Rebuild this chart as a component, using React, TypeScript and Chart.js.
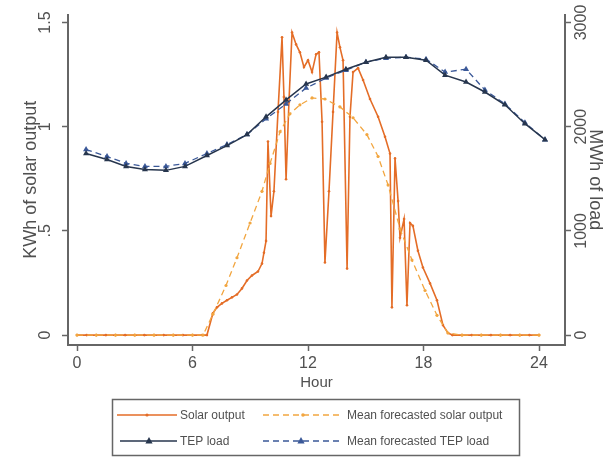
import React, { useEffect, useRef } from 'react';
import { Chart, registerables } from 'chart.js';

Chart.register(...registerables);

// ---- Data ----
const xTickHours = [0, 6, 12, 18, 24];
const kwhTicks = [0, 0.5, 1, 1.5];
const mwhTicks = [0, 1000, 2000, 3000];

const solarHours = [
  0, 0.5, 1, 1.5, 2, 2.5, 3, 3.5, 4, 4.5, 5, 5.5, 6, 6.5,
  6.75, 7.06, 7.27, 7.53, 7.79, 8.05, 8.31, 8.57, 8.83, 9.09, 9.4, 9.61, 9.71, 9.82,
  9.92, 10.08, 10.23, 10.44, 10.65, 10.75, 10.86, 11.01, 11.17, 11.38, 11.58, 11.79,
  12.0, 12.21, 12.42, 12.57, 12.73, 12.88, 13.09, 13.3, 13.51, 13.66, 13.82, 14.03,
  14.18, 14.34, 14.6, 14.86, 15.22, 15.64, 16.0, 16.26, 16.36, 16.52, 16.68, 16.78,
  16.99, 17.14, 17.3, 17.45, 17.71, 17.97, 18.34, 18.7, 19.01, 19.27,
  19.5, 20, 20.5, 21, 21.5, 22, 22.5, 23, 23.5, 24,
];
const solarKWh = [
  0, 0, 0, 0, 0, 0, 0, 0, 0, 0, 0, 0, 0, 0,
  0.0, 0.105, 0.133, 0.152, 0.167, 0.181, 0.195, 0.224, 0.262, 0.286, 0.305, 0.343, 0.395, 0.452,
  0.929, 0.571, 0.69, 1.071, 1.429, 1.143, 0.748, 1.119, 1.452, 1.395, 1.357, 1.286,
  1.319, 1.262, 1.348, 1.357, 1.024, 0.348, 0.69, 1.071, 1.452, 1.381, 1.319, 0.319,
  1.048, 1.262, 1.281, 1.224, 1.133, 1.048, 0.952, 0.871, 0.133, 0.848, 0.643, 0.467,
  0.557, 0.143, 0.538, 0.524, 0.405, 0.324, 0.248, 0.167, 0.048, 0.01,
  0, 0, 0, 0, 0, 0, 0, 0, 0, 0,
];

const forecastSolarHours = [
  0, 1, 2, 3, 4, 5, 6, 6.55, 7.06, 7.74, 8.31, 8.99, 9.61, 10.03, 10.55, 11.06, 11.58,
  12.21, 12.88, 13.66, 14.34, 15.06, 15.64, 16.16, 16.78, 17.4, 18.08, 18.7, 19.27,
  20, 21, 22, 23, 24,
];
const forecastSolarKWh = [
  0, 0, 0, 0, 0, 0, 0, 0, 0.1, 0.238, 0.371, 0.538, 0.69, 0.824, 0.976, 1.062, 1.105,
  1.138, 1.133, 1.095, 1.043, 0.962, 0.857, 0.72, 0.51, 0.36, 0.214, 0.095, 0.01,
  0, 0, 0, 0, 0,
];

const loadHours = [
  0.47, 1.56, 2.55, 3.53, 4.62, 5.61, 6.75, 7.79, 8.83, 9.82, 10.86, 11.9,
  12.94, 13.97, 15.01, 16.05, 17.09, 18.13, 19.12, 20.21, 21.19, 22.23, 23.27, 24.31,
];
const tepLoadMWh = [
  1743, 1686, 1619, 1590, 1581, 1619, 1724, 1819, 1924, 2095, 2257, 2410,
  2476, 2552, 2619, 2667, 2667, 2638, 2495, 2429, 2333, 2210, 2029, 1876,
];
const forecastLoadMWh = [
  1781, 1714, 1648, 1619, 1619, 1648, 1743, 1829, 1924, 2076, 2219, 2371,
  2467, 2543, 2619, 2657, 2667, 2648, 2524, 2552, 2352, 2219, 2038, 1876,
];

const seriesNames = [
  'Solar output',
  'Mean forecasted solar output',
  'TEP load',
  'Mean forecasted TEP load',
];

// ---- Styles ----
const SOLAR = '#e46d27';
const SOLAR_FC = '#f2a640';
const LOAD = '#27364e';
const LOAD_FC = '#3a5898';
const AXIS = '#666666';
const TEXT = '#505050';
const FONT = "'Liberation Sans', Arial, sans-serif";

const zip = (xs: number[], ys: number[]) => xs.map((x, i) => ({ x, y: ys[i] }));

function drawMarker(ctx: CanvasRenderingContext2D, kind: string, x: number, y: number, r: number, color: string) {
  ctx.fillStyle = color;
  ctx.beginPath();
  if (kind === 'triangle') {
    ctx.moveTo(x, y - r);
    ctx.lineTo(x + r * 0.9, y + r * 0.6);
    ctx.lineTo(x - r * 0.9, y + r * 0.6);
    ctx.closePath();
  } else {
    ctx.arc(x, y, r, 0, Math.PI * 2);
  }
  ctx.fill();
}

const legendPlugin = {
  id: 'stataLegend',
  afterDraw(chart: any) {
    const ctx: CanvasRenderingContext2D = chart.ctx;
    ctx.save();
    ctx.strokeStyle = AXIS;
    ctx.lineWidth = 1.5;
    ctx.strokeRect(112.5, 399.5, 407, 56);
    const items = [
      { name: seriesNames[0], color: SOLAR, dash: [], marker: 'circle', r: 1.6, x0: 117, x1: 177, mx: 147, tx: 180, y: 415 },
      { name: seriesNames[1], color: SOLAR_FC, dash: [6, 4], marker: 'circle', r: 1.8, x0: 263, x1: 342, mx: 303, tx: 347, y: 415 },
      { name: seriesNames[2], color: LOAD, dash: [], marker: 'triangle', r: 4, x0: 120, x1: 177, mx: 149, tx: 180, y: 441 },
      { name: seriesNames[3], color: LOAD_FC, dash: [6, 4], marker: 'triangle', r: 4, x0: 263, x1: 342, mx: 301, tx: 347, y: 441 },
    ];
    ctx.font = `12px ${FONT}`;
    ctx.textBaseline = 'middle';
    ctx.textAlign = 'left';
    for (const it of items) {
      ctx.strokeStyle = it.color;
      ctx.lineWidth = 1.3;
      ctx.setLineDash(it.dash);
      ctx.beginPath();
      ctx.moveTo(it.x0, it.y);
      ctx.lineTo(it.x1, it.y);
      ctx.stroke();
      ctx.setLineDash([]);
      drawMarker(ctx, it.marker, it.mx, it.y, it.r, it.color);
      ctx.fillStyle = TEXT;
      ctx.fillText(it.name, it.tx, it.y + 1);
    }
    ctx.restore();
  },
};

export default function App() {
  const ref = useRef<HTMLCanvasElement>(null);

  useEffect(() => {
    if (!ref.current) return;
    const chart = new Chart(ref.current, {
      type: 'line',
      data: {
        datasets: [
          {
            label: seriesNames[2],
            data: zip(loadHours, tepLoadMWh),
            yAxisID: 'y2',
            borderColor: LOAD,
            backgroundColor: LOAD,
            borderWidth: 1.5,
            pointStyle: 'triangle',
            pointRadius: 3.5,
            pointBorderWidth: 0,
            tension: 0,
            order: 0,
          },
          {
            label: seriesNames[3],
            data: zip(loadHours, forecastLoadMWh),
            yAxisID: 'y2',
            borderColor: LOAD_FC,
            backgroundColor: LOAD_FC,
            borderWidth: 1.3,
            borderDash: [6, 4],
            pointStyle: 'triangle',
            pointRadius: 3.5,
            pointBorderWidth: 0,
            tension: 0,
            order: 1,
          },
          {
            label: seriesNames[1],
            data: zip(forecastSolarHours, forecastSolarKWh),
            yAxisID: 'y',
            borderColor: SOLAR_FC,
            backgroundColor: SOLAR_FC,
            borderWidth: 1.3,
            borderDash: [6, 4],
            pointRadius: 1.6,
            pointBorderWidth: 0,
            tension: 0,
            order: 2,
          },
          {
            label: seriesNames[0],
            data: zip(solarHours, solarKWh),
            yAxisID: 'y',
            borderColor: SOLAR,
            backgroundColor: SOLAR,
            borderWidth: 1.6,
            pointRadius: 1.3,
            pointBorderWidth: 0,
            tension: 0,
            order: 3,
          },
        ],
      },
      options: {
        responsive: false,
        animation: false,
        events: [],
        layout: { padding: { top: 12, bottom: 65, left: 0, right: 0 } },
        plugins: {
          legend: { display: false },
          tooltip: { enabled: false },
          title: { display: false },
        },
        scales: {
          x: {
            type: 'linear',
            position: 'bottom',
            min: -0.468,
            max: 25.35,
            afterBuildTicks: (s: any) => { s.ticks = xTickHours.map((v) => ({ value: v })); },
            afterFit: (s: any) => { s.height = 47; },
            grid: { drawOnChartArea: false, drawTicks: true, tickLength: 6, tickColor: AXIS, tickWidth: 1.5 },
            border: { display: true, color: AXIS, width: 2 },
            ticks: { color: TEXT, font: { family: FONT, size: 16 }, padding: 3, maxRotation: 0, minRotation: 0 },
            title: { display: true, text: 'Hour', color: TEXT, font: { family: FONT, size: 15 }, padding: { top: 0, bottom: 0 } },
          },
          y: {
            type: 'linear',
            position: 'left',
            min: -0.0476,
            max: 1.538,
            afterBuildTicks: (s: any) => { s.ticks = kwhTicks.map((v) => ({ value: v })); },
            afterFit: (s: any) => { s.width = 68; },
            grid: { drawOnChartArea: false, drawTicks: true, tickLength: 6, tickColor: AXIS, tickWidth: 1.5 },
            border: { display: true, color: AXIS, width: 2 },
            ticks: {
              color: TEXT,
              font: { family: FONT, size: 16 },
              minRotation: 90,
              maxRotation: 90,
              crossAlign: 'center',
              padding: 5,
              callback: (v: any) => (v === 0.5 ? '.5' : String(v)),
            },
            title: { display: true, text: 'KWh of solar output', color: TEXT, font: { family: FONT, size: 18 }, padding: { top: 20, bottom: 0 } },
          },
          y2: {
            type: 'linear',
            position: 'right',
            min: -95.2,
            max: 3076,
            afterBuildTicks: (s: any) => { s.ticks = mwhTicks.map((v) => ({ value: v })); },
            afterFit: (s: any) => { s.width = 47; },
            grid: { drawOnChartArea: false, drawTicks: true, tickLength: 6, tickColor: AXIS, tickWidth: 1.5 },
            border: { display: true, color: AXIS, width: 2 },
            ticks: {
              color: TEXT,
              font: { family: FONT, size: 16 },
              minRotation: 90,
              maxRotation: 90,
              crossAlign: 'center',
              padding: -7,
              callback: (v: any) => String(v),
            },
            title: { display: true, text: 'MWh of load', color: TEXT, font: { family: FONT, size: 18 }, padding: { top: 6, bottom: 0 } },
          },
        },
      } as any,
      plugins: [legendPlugin],
    });
    return () => chart.destroy();
  }, []);

  return (
    <div style={{ position: 'fixed', left: 0, top: 0, width: 612, height: 457, background: '#fff' }}>
      <canvas ref={ref} width={612} height={457} style={{ display: 'block', width: 612, height: 457 }} />
    </div>
  );
}
